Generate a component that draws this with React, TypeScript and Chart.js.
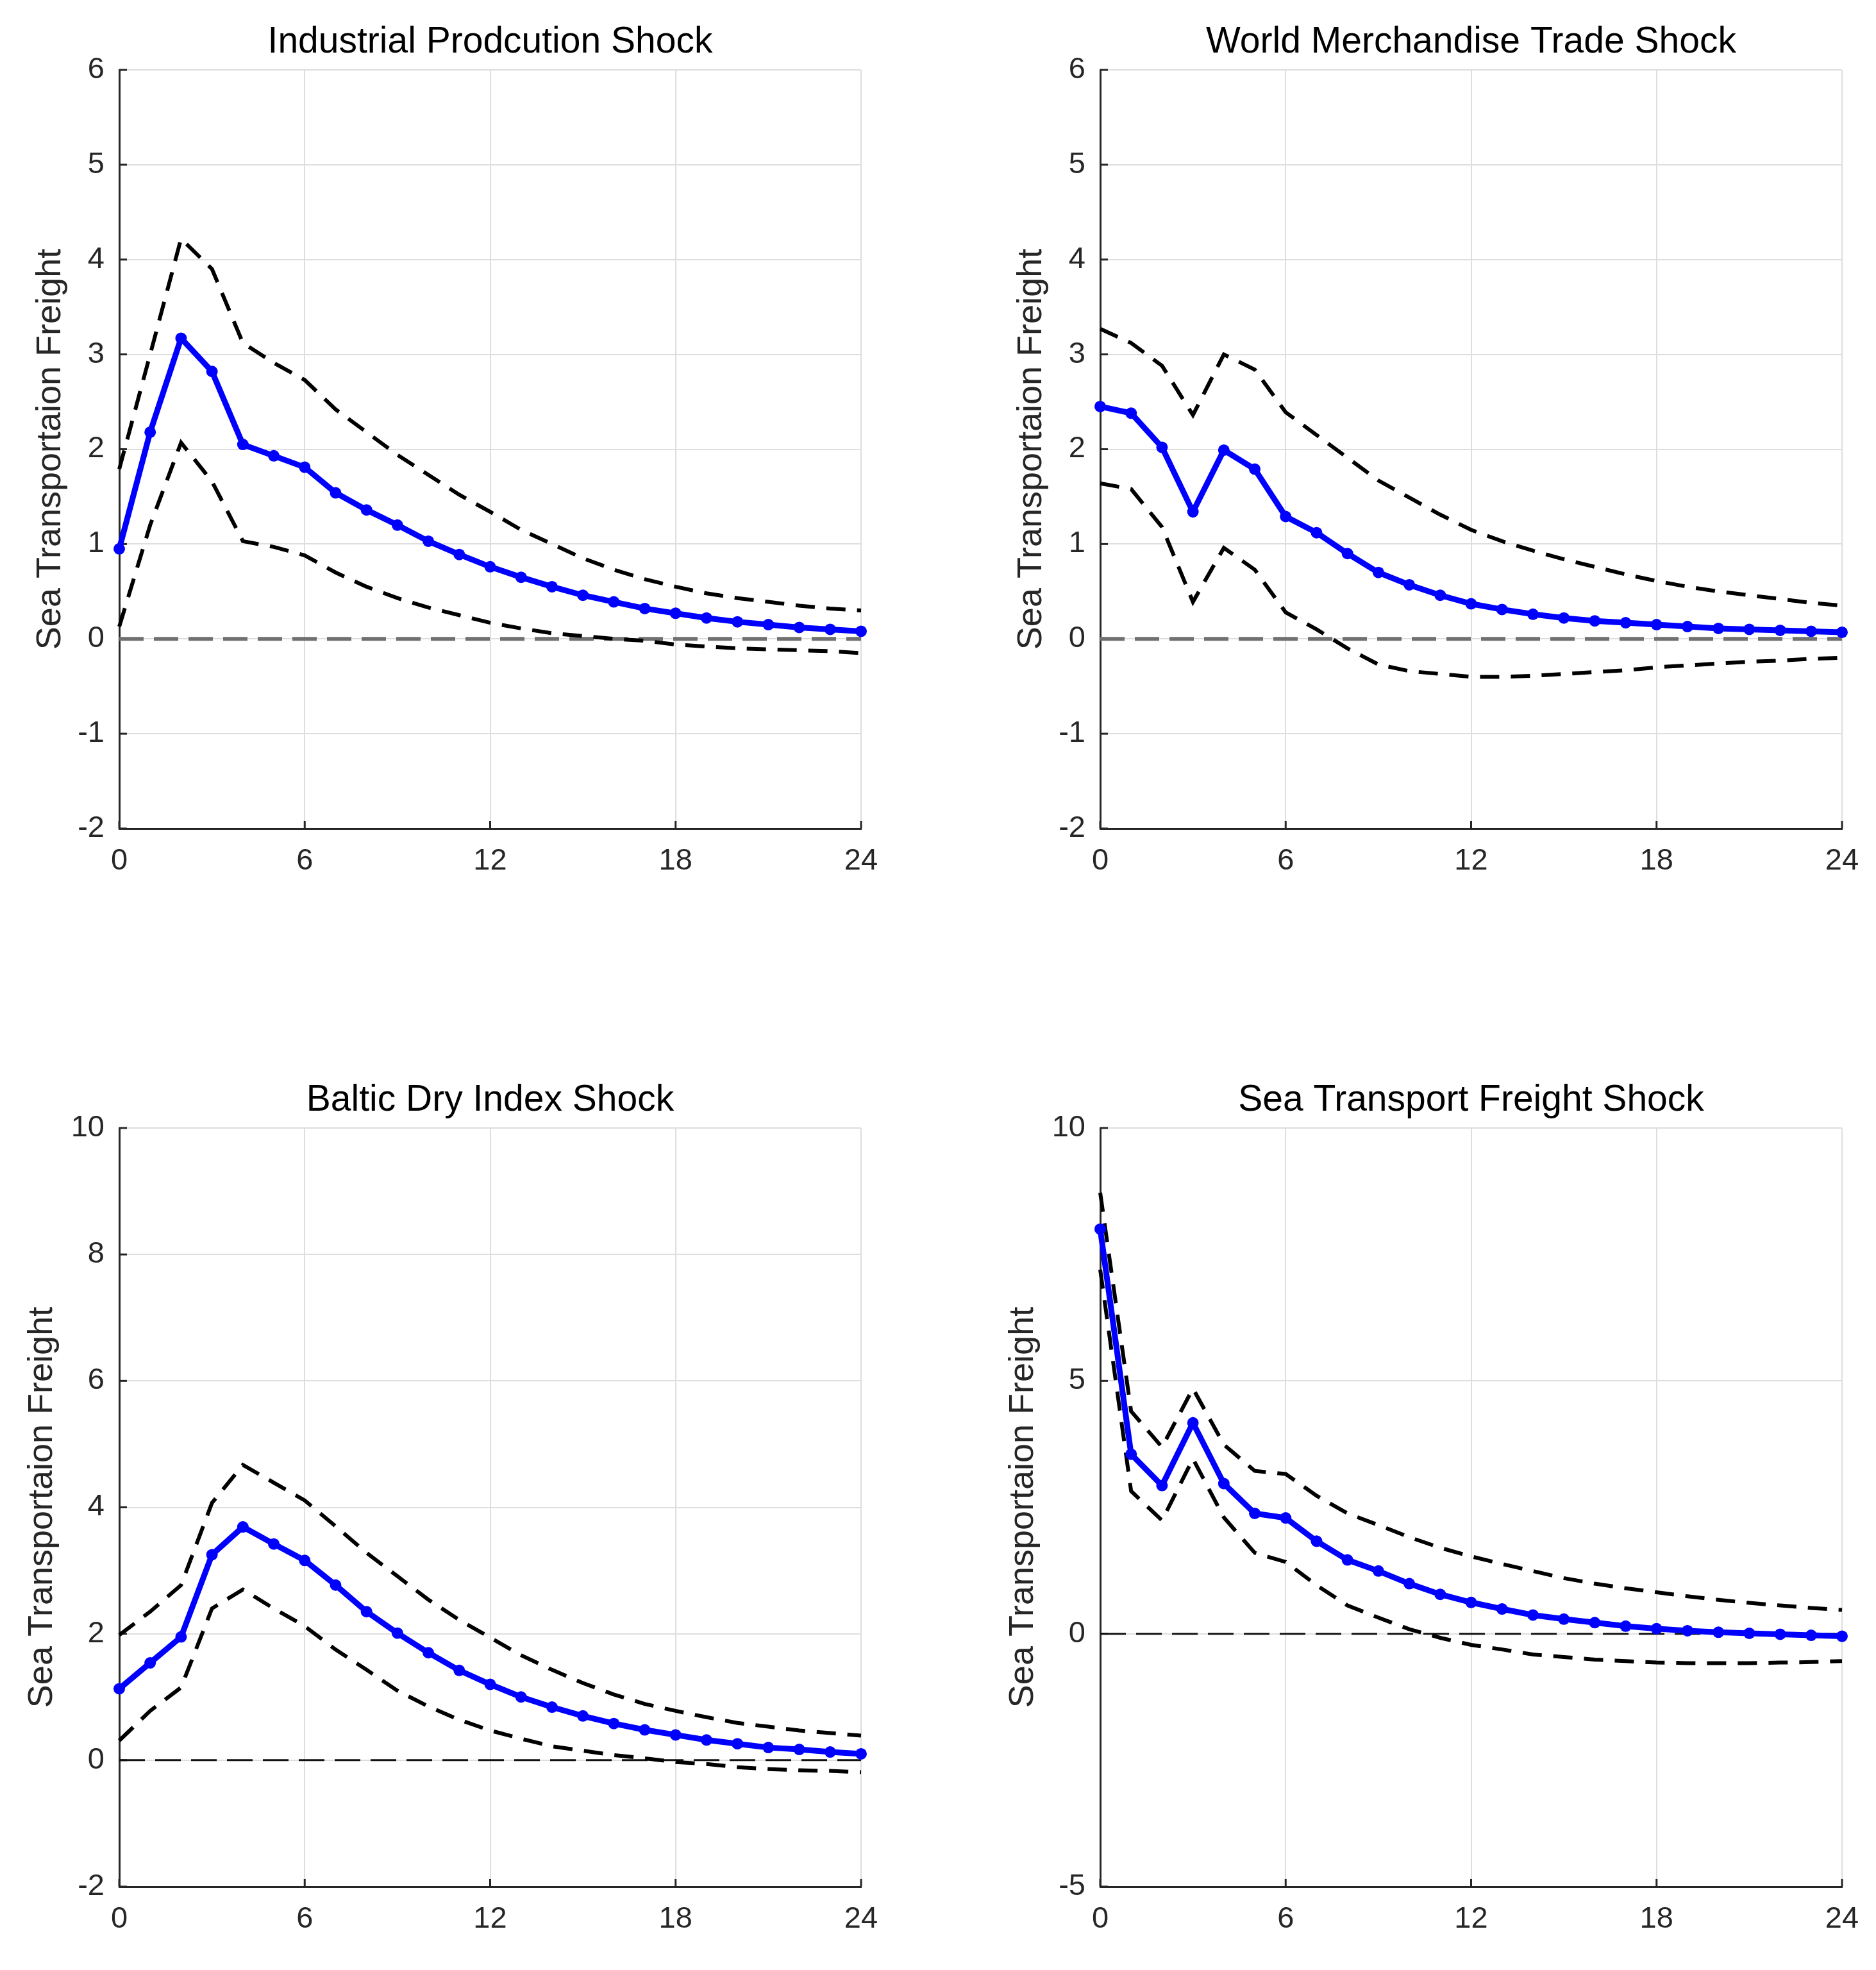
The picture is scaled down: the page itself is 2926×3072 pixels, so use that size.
import React, { useEffect, useRef } from 'react';
import { Chart, registerables } from 'chart.js';

Chart.register(...registerables);

// ---------- data ----------
const horizon = [0, 1, 2, 3, 4, 5, 6, 7, 8, 9, 10, 11, 12, 13, 14, 15, 16, 17, 18, 19, 20, 21, 22, 23, 24];
const xTickStep = 6;

const ipMean = [0.95, 2.18, 3.17, 2.82, 2.05, 1.93, 1.81, 1.54, 1.36, 1.2, 1.03, 0.89, 0.76, 0.65, 0.55, 0.46, 0.39, 0.32, 0.27, 0.22, 0.18, 0.15, 0.12, 0.1, 0.08];
const ipUpper = [1.79, 3.0, 4.22, 3.9, 3.12, 2.91, 2.73, 2.42, 2.18, 1.94, 1.73, 1.52, 1.34, 1.15, 1.0, 0.85, 0.73, 0.63, 0.55, 0.48, 0.43, 0.39, 0.35, 0.32, 0.3];
const ipLower = [0.13, 1.2, 2.07, 1.66, 1.03, 0.97, 0.88, 0.7, 0.55, 0.43, 0.33, 0.25, 0.17, 0.11, 0.06, 0.03, 0.0, -0.02, -0.06, -0.08, -0.1, -0.11, -0.12, -0.13, -0.15];

const wtMean = [2.45, 2.38, 2.02, 1.34, 1.99, 1.79, 1.29, 1.12, 0.9, 0.7, 0.57, 0.46, 0.37, 0.31, 0.26, 0.22, 0.19, 0.17, 0.15, 0.13, 0.11, 0.1, 0.09, 0.08, 0.07];
const wtUpper = [3.27, 3.12, 2.88, 2.36, 3.0, 2.84, 2.39, 2.15, 1.91, 1.67, 1.49, 1.31, 1.15, 1.03, 0.93, 0.84, 0.76, 0.68, 0.61, 0.55, 0.5, 0.46, 0.42, 0.38, 0.35];
const wtLower = [1.64, 1.58, 1.18, 0.39, 0.96, 0.73, 0.28, 0.1, -0.1, -0.27, -0.34, -0.37, -0.4, -0.4, -0.39, -0.37, -0.35, -0.33, -0.3, -0.28, -0.26, -0.24, -0.23, -0.21, -0.2];

const bdiMean = [1.13, 1.54, 1.95, 3.25, 3.69, 3.42, 3.16, 2.77, 2.35, 2.01, 1.7, 1.42, 1.2, 1.0, 0.84, 0.7, 0.58, 0.48, 0.4, 0.32, 0.26, 0.2, 0.17, 0.13, 0.1];
const bdiUpper = [1.98, 2.35, 2.77, 4.07, 4.67, 4.39, 4.11, 3.7, 3.28, 2.91, 2.54, 2.22, 1.94, 1.66, 1.43, 1.22, 1.04, 0.89, 0.78, 0.68, 0.59, 0.53, 0.47, 0.43, 0.39];
const bdiLower = [0.31, 0.78, 1.15, 2.4, 2.7, 2.4, 2.12, 1.75, 1.43, 1.1, 0.85, 0.64, 0.47, 0.34, 0.22, 0.15, 0.08, 0.03, -0.03, -0.06, -0.11, -0.14, -0.16, -0.17, -0.19];

const stfMean = [8.0, 3.55, 2.93, 4.17, 2.97, 2.38, 2.29, 1.83, 1.46, 1.24, 0.99, 0.78, 0.62, 0.49, 0.37, 0.29, 0.22, 0.15, 0.1, 0.06, 0.03, 0.01, -0.01, -0.03, -0.05];
const stfUpper = [8.72, 4.4, 3.69, 4.85, 3.74, 3.22, 3.16, 2.73, 2.38, 2.15, 1.91, 1.7, 1.53, 1.38, 1.24, 1.1, 0.99, 0.9, 0.82, 0.74, 0.67, 0.61, 0.56, 0.51, 0.47];
const stfLower = [7.2, 2.82, 2.24, 3.46, 2.3, 1.6, 1.42, 0.96, 0.56, 0.32, 0.09, -0.08, -0.22, -0.31, -0.41, -0.46, -0.51, -0.54, -0.57, -0.58, -0.58, -0.58, -0.57, -0.56, -0.54];

const titles = ['Industrial Prodcution Shock', 'World Merchandise Trade Shock', 'Baltic Dry Index Shock', 'Sea Transport Freight Shock'];
const yLabel = 'Sea Transportaion Freight';
const yRanges = [
  [-2, 6, 1],
  [-2, 6, 1],
  [-2, 10, 2],
  [-5, 10, 5],
];
const zeroLevel = 0;

// ---------- layout / style ----------
const FONT = '"Liberation Sans", Arial, Helvetica, sans-serif';
const AXIS = '#262626';
const CW = 1463;
const CH = 1536;

type PanelCfg = {
  title: string;
  mean: number[];
  upper: number[];
  lower: number[];
  yr: number[];
  pos: [number, number];
  area: { left: number; right: number; top: number; bottom: number };
  labelGap: number;
  zeroColor: string;
  zeroWidth: number;
  zeroDash: number[];
};

const panels: PanelCfg[] = [
  {
    title: titles[0], mean: ipMean, upper: ipUpper, lower: ipLower, yr: yRanges[0], pos: [0, 0],
    area: { left: 186, right: 1343, top: 109, bottom: 1292 }, labelGap: 92,
    zeroColor: '#707070', zeroWidth: 6, zeroDash: [38, 16],
  },
  {
    title: titles[1], mean: wtMean, upper: wtUpper, lower: wtLower, yr: yRanges[1], pos: [1463, 0],
    area: { left: 253, right: 1410, top: 109, bottom: 1292 }, labelGap: 92,
    zeroColor: '#707070', zeroWidth: 6, zeroDash: [38, 16],
  },
  {
    title: titles[2], mean: bdiMean, upper: bdiUpper, lower: bdiLower, yr: yRanges[2], pos: [0, 1536],
    area: { left: 186, right: 1343, top: 223, bottom: 1406 }, labelGap: 105,
    zeroColor: '#111111', zeroWidth: 3, zeroDash: [40, 16],
  },
  {
    title: titles[3], mean: stfMean, upper: stfUpper, lower: stfLower, yr: yRanges[3], pos: [1463, 1536],
    area: { left: 253, right: 1410, top: 223, bottom: 1406 }, labelGap: 105,
    zeroColor: '#111111', zeroWidth: 3, zeroDash: [40, 16],
  },
];

const decorPlugin = {
  id: 'decor',
  beforeDatasetsDraw(chart: any) {
    const { ctx, chartArea } = chart;
    const xs = chart.scales.x;
    const ys = chart.scales.y;
    ctx.save();
    ctx.strokeStyle = AXIS;
    ctx.lineWidth = 3;
    ys.ticks.forEach((t: any) => {
      const py = ys.getPixelForValue(t.value);
      ctx.beginPath();
      ctx.moveTo(chartArea.left, py);
      ctx.lineTo(chartArea.left + 12, py);
      ctx.stroke();
    });
    xs.ticks.forEach((t: any) => {
      const px = xs.getPixelForValue(t.value);
      ctx.beginPath();
      ctx.moveTo(px, chartArea.bottom);
      ctx.lineTo(px, chartArea.bottom - 12);
      ctx.stroke();
    });
    ctx.restore();
  },
  afterDraw(chart: any, _args: any, opts: any) {
    const { ctx, chartArea } = chart;
    ctx.save();
    ctx.fillStyle = '#000000';
    ctx.font = `57px ${FONT}`;
    ctx.textAlign = 'center';
    ctx.textBaseline = 'alphabetic';
    ctx.fillText(opts.title, (chartArea.left + chartArea.right) / 2, chartArea.top - 27);
    ctx.translate(chartArea.left - opts.labelGap, (chartArea.top + chartArea.bottom) / 2);
    ctx.rotate(-Math.PI / 2);
    ctx.fillStyle = AXIS;
    ctx.font = `54px ${FONT}`;
    ctx.fillText(opts.ylabel, 0, 0);
    ctx.restore();
  },
};

function Panel({ cfg }: { cfg: PanelCfg }) {
  const ref = useRef<HTMLCanvasElement | null>(null);
  useEffect(() => {
    if (!ref.current) return;
    const a = cfg.area;
    const xH = 100;
    const toPts = (arr: number[]) => horizon.map((h, i) => ({ x: h, y: arr[i] }));
    const zeroPts = [
      { x: horizon[0], y: zeroLevel },
      { x: horizon[horizon.length - 1], y: zeroLevel },
    ];
    const band = (arr: number[]) => ({
      data: toPts(arr),
      borderColor: '#000000',
      borderWidth: 6,
      borderDash: [30, 18],
      pointRadius: 0,
      tension: 0,
      clip: false,
    });
    const chart = new Chart(ref.current, {
      type: 'line',
      data: {
        datasets: [
          {
            data: toPts(cfg.mean),
            borderColor: '#0000ff',
            backgroundColor: '#0000ff',
            borderWidth: 9,
            pointRadius: 9,
            pointBorderWidth: 0,
            pointBackgroundColor: '#0000ff',
            tension: 0,
            clip: false,
          } as any,
          band(cfg.upper) as any,
          band(cfg.lower) as any,
          {
            data: zeroPts,
            borderColor: cfg.zeroColor,
            borderWidth: cfg.zeroWidth,
            borderDash: cfg.zeroDash,
            pointRadius: 0,
            tension: 0,
            clip: false,
          } as any,
        ],
      },
      options: {
        animation: false,
        responsive: false,
        devicePixelRatio: 1,
        events: [],
        layout: {
          padding: { left: 0, top: a.top, right: CW - a.right, bottom: CH - a.bottom - xH },
        },
        plugins: {
          legend: { display: false },
          tooltip: { enabled: false },
          decor: { title: cfg.title, ylabel: yLabel, labelGap: cfg.labelGap },
        } as any,
        scales: {
          x: {
            type: 'linear',
            min: horizon[0],
            max: horizon[horizon.length - 1],
            afterFit: (s: any) => { s.height = xH; },
            ticks: {
              stepSize: xTickStep,
              color: AXIS,
              font: { family: FONT, size: 47 },
              padding: 23,
              maxRotation: 0,
            },
            grid: { color: '#dedede', lineWidth: 2, drawTicks: false },
            border: { display: true, color: AXIS, width: 3 },
          },
          y: {
            type: 'linear',
            min: cfg.yr[0],
            max: cfg.yr[1],
            afterFit: (s: any) => { s.width = a.left; },
            ticks: {
              stepSize: cfg.yr[2],
              color: AXIS,
              font: { family: FONT, size: 47 },
              padding: 23,
            },
            grid: { color: '#dedede', lineWidth: 2, drawTicks: false },
            border: { display: true, color: AXIS, width: 3 },
          },
        },
      } as any,
      plugins: [decorPlugin as any],
    });
    return () => chart.destroy();
  }, [cfg]);
  return (
    <canvas
      ref={ref}
      width={CW}
      height={CH}
      style={{ position: 'absolute', left: cfg.pos[0], top: cfg.pos[1], width: CW, height: CH, display: 'block' }}
    />
  );
}

export default function App() {
  return (
    <div style={{ position: 'absolute', left: 0, top: 0, width: 2926, height: 3072, background: '#ffffff' }}>
      {panels.map((p, i) => (
        <Panel key={i} cfg={p} />
      ))}
    </div>
  );
}
